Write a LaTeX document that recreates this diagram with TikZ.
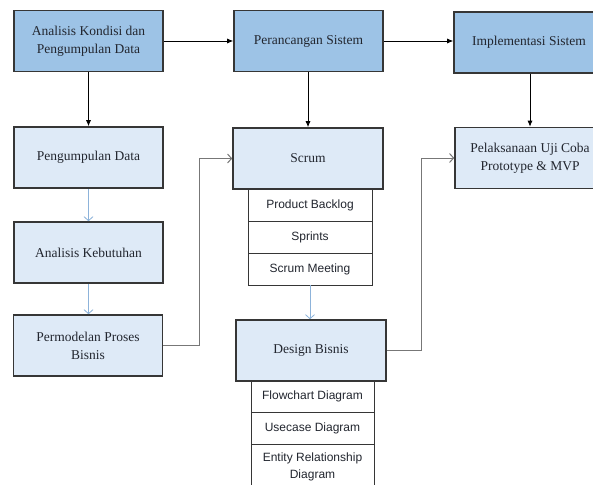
\documentclass[tikz,border=0pt]{standalone}
\usepackage{fontspec}
\setmainfont{Liberation Serif}
\newfontfamily\helv{Liberation Sans}
\usetikzlibrary{arrows.meta}

\definecolor{boxdark}{HTML}{9DC3E6}
\definecolor{boxlight}{HTML}{DEEAF7}
\definecolor{boxline}{HTML}{363636}
\definecolor{txt}{HTML}{22262F}
\definecolor{flowblue}{HTML}{8DB3DA}
\definecolor{flowgray}{HTML}{777777}

\tikzset{
  mainbox/.style={draw=boxline, line width=1.6pt, fill=boxdark, text=txt,
    minimum width=149pt, minimum height=61pt, align=center, inner sep=2pt,
    font=\fontsize{13.5}{18}\selectfont},
  stagebox/.style={mainbox, fill=boxlight},
  subbox/.style={draw=boxline, line width=0.7pt, fill=white, text=txt,
    minimum width=124pt, align=center, inner sep=1pt,
    font=\helv\fontsize{12}{17}\selectfont},
  darkflow/.style={draw=black, line width=0.8pt, -{Latex[length=6pt,width=5pt]}},
  blueflow/.style={draw=flowblue, line width=0.8pt, -{Straight Barb[length=4pt,width=9pt]}},
  grayflow/.style={draw=flowgray, line width=1pt, -{Straight Barb[length=4pt,width=9pt]}},
}

\begin{document}
\begin{tikzpicture}[x=1pt, y=-1pt]
\useasboundingbox (0,0) rectangle (593,484);
\clip (0,0) rectangle (593,484);
\fill[white] (0,0) rectangle (593,484);

% top row
\node[mainbox] (kondisi) at (88.5,41) {Analisis Kondisi dan\\Pengumpulan Data};
\node[mainbox] (rancang) at (308.5,41) {Perancangan Sistem};
\node[mainbox, minimum width=150pt] (implementasi) at (529,42.5) {Implementasi Sistem};

% left column
\node[stagebox] (kumpul) at (88.5,157.5) {Pengumpulan Data};
\node[stagebox] (butuh) at (88.5,252.5) {Analisis Kebutuhan};
\node[stagebox] (proses) at (88,345.5) {Permodelan Proses\\Bisnis};

% middle column
\node[stagebox, minimum width=150pt] (scrum) at (308,158.5) {Scrum};
\node[subbox, minimum height=32pt] (backlog) at (310,205) {Product Backlog};
\node[subbox, minimum height=32pt] (sprints) at (310,237) {Sprints};
\node[subbox, minimum height=32pt] (meeting) at (310,269) {Scrum Meeting};

\node[stagebox, minimum width=150pt] (design) at (311,350.5) {Design Bisnis};
\node[subbox, minimum width=123pt, minimum height=31pt] (flowchart) at (312.5,396.5) {Flowchart Diagram};
\node[subbox, minimum width=123pt, minimum height=32pt] (usecase) at (312.5,428) {Usecase Diagram};
\node[subbox, minimum width=123pt, minimum height=45pt] (erd) at (312.5,466.5) {Entity Relationship\\Diagram};

% right column
\node[stagebox, minimum width=150pt] (ujicoba) at (530,158) {Pelaksanaan Uji Coba\\Prototype \& MVP};

% connectors
\draw[darkflow] (kondisi) -- (rancang);
\draw[darkflow] (rancang) -- (implementasi.west |- rancang.east);
\draw[darkflow] (kondisi.south) -- (kumpul.north);
\draw[darkflow] (rancang.south -| scrum.north) -- (scrum.north);
\draw[darkflow] (implementasi.south -| ujicoba.north) -- (ujicoba.north);

\draw[blueflow] (kumpul) -- (butuh);
\draw[blueflow] (butuh) -- (proses.north -| butuh.south);
\draw[blueflow] (meeting.south) -- (design.north -| meeting.south);

\coordinate (bendA) at (199,0);
\coordinate (bendB) at (421,0);
\draw[grayflow] (proses.east) -- (proses.east -| bendA) |- (scrum.west);
\draw[grayflow] (design.east) -- (design.east -| bendB) |- (ujicoba.west);
\end{tikzpicture}
\end{document}
